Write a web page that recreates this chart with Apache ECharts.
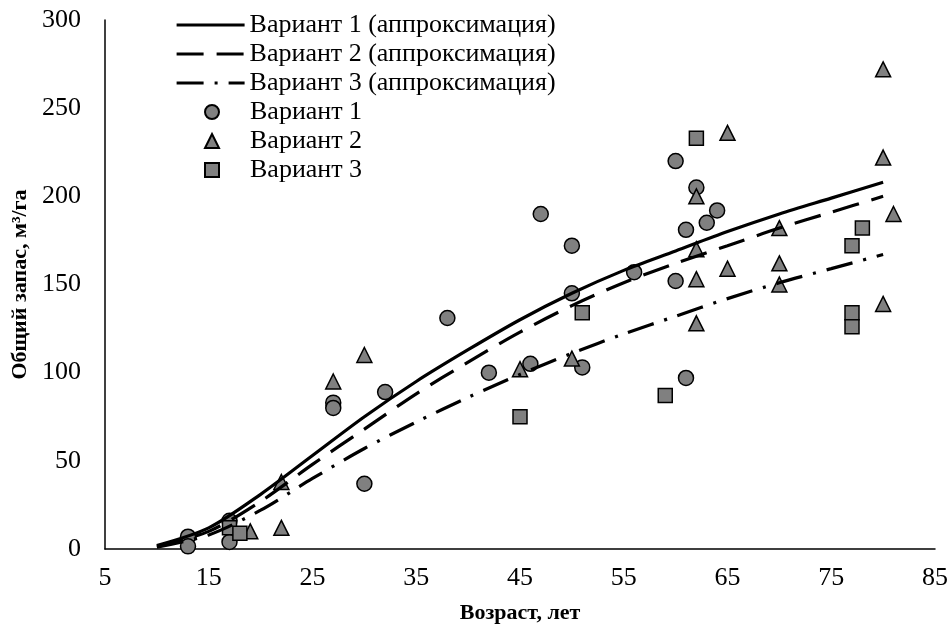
<!DOCTYPE html>
<html>
<head>
    <meta charset="utf-8">
    <script src="https://cdn.jsdelivr.net/npm/echarts@6/dist/echarts.min.js"></script>
    <style>
        html, body { margin: 0; padding: 0; background: #fff; }
        #main { width: 952px; height: 632px; }
    </style>
</head>
<body>
<div id="main"></div>
<script>
    // approximation curves
    var fitAges = [10, 15, 20, 25, 30, 35, 40, 45, 50, 55, 60, 65, 70, 75, 80];
    var fit1 = [2, 12, 31, 53, 75, 95, 113, 130, 145, 158, 169, 180, 190, 199, 208];
    var fit2 = [1.5, 10, 27, 48, 68, 88, 106, 123, 138, 151, 162, 172, 182, 191, 200];
    var fit3 = [1, 8, 22, 40, 57, 72, 86, 99, 111, 122, 132, 142, 151, 159, 167];

    // measured plots
    var v1Age = [13, 13, 17, 17, 27, 27, 30, 32, 38, 42, 46, 47, 50, 50, 51, 56, 60, 60, 61, 61, 62, 63, 64];
    var v1Vol = [7, 1.5, 16, 4, 83, 80, 37, 89, 131, 100, 105, 190, 172, 145, 103, 157, 220, 152, 181, 97, 205, 185, 192];
    var v2Age = [19, 22, 22, 27, 30, 45, 50, 62, 62, 62, 62, 65, 65, 70, 70, 70, 80, 80, 80, 81];
    var v2Vol = [10, 12, 38, 95, 110, 102, 108, 200, 170, 153, 128, 236, 159, 182, 162, 150, 272, 222, 139, 190];
    var v3Age = [17, 18, 45, 51, 59, 62, 77, 77, 77, 78];
    var v3Vol = [12, 9, 75, 134, 87, 233, 172, 134, 126, 182];

    var names = [
        'Вариант 1 (аппроксимация)',
        'Вариант 2 (аппроксимация)',
        'Вариант 3 (аппроксимация)',
        'Вариант 1',
        'Вариант 2',
        'Вариант 3'
    ];

    function pairs(xs, ys) {
        var out = [];
        for (var i = 0; i < xs.length; i++) {
            out.push([xs[i], ys[i]]);
        }
        return out;
    }

    var font = 'Liberation Serif, Times New Roman, serif';

    function fitLine(name, ys, dash) {
        return {
            name: name,
            type: 'line',
            smooth: 0.3,
            symbol: 'none',
            data: pairs(fitAges, ys),
            lineStyle: { color: '#000', width: 3.2, type: dash, cap: 'butt' },
            // transparent so the legend shows just the line
            itemStyle: { color: 'rgba(0,0,0,0)', borderWidth: 0 },
            z: 3
        };
    }

    function dots(name, xs, ys, symbol, size) {
        return {
            name: name,
            type: 'scatter',
            symbol: symbol,
            symbolSize: size,
            data: pairs(xs, ys),
            itemStyle: { color: '#808080', borderColor: '#000', borderWidth: 1.5, opacity: 1 },
            z: 2
        };
    }

    var chart = echarts.init(document.getElementById('main'));

    var legendText = { fontFamily: font, fontSize: 26, color: '#000' };

    chart.setOption({
        animation: false,
        backgroundColor: '#fff',
        textStyle: { fontFamily: font, color: '#000' },
        grid: { left: 105, right: 17, top: 20, bottom: 83, containLabel: false },
        legend: [{
            orient: 'vertical',
            left: 170,
            top: 7,
            itemWidth: 68,
            itemHeight: 14,
            itemGap: 3,
            data: names.slice(0, 3),
            lineStyle: { width: 3.2 },
            textStyle: legendText
        }, {
            // markers: small icons, text pushed to line up with the first block
            orient: 'vertical',
            left: 199,
            top: 94,
            itemWidth: 14,
            itemHeight: 14,
            itemGap: 3,
            data: names.slice(3),
            formatter: '{gap|}{name}',
            textStyle: {
                fontFamily: font, fontSize: 26, color: '#000',
                rich: { gap: { width: 26 } }
            }
        }],
        xAxis: {
            type: 'value',
            min: 5,
            max: 85,
            interval: 10,
            name: 'Возраст, лет',
            nameLocation: 'middle',
            nameGap: 53,
            nameTextStyle: { fontFamily: font, fontSize: 22, fontWeight: 'bold', color: '#000' },
            axisLine: { onZero: false, lineStyle: { color: '#000', width: 1.5 } },
            axisTick: { show: false },
            splitLine: { show: false },
            axisLabel: { fontFamily: font, fontSize: 26, color: '#000', margin: 16 }
        },
        yAxis: {
            type: 'value',
            min: 0,
            max: 300,
            interval: 50,
            name: 'Общий запас, м³/га',
            nameLocation: 'middle',
            nameGap: 74,
            nameTextStyle: { fontFamily: font, fontSize: 22, fontWeight: 'bold', color: '#000' },
            axisLine: { show: true, lineStyle: { color: '#000', width: 1.5 } },
            axisTick: { show: false },
            splitLine: { show: false },
            axisLabel: { fontFamily: font, fontSize: 26, color: '#000', margin: 24 }
        },
        series: [
            fitLine(names[0], fit1, 'solid'),
            fitLine(names[1], fit2, [27, 13]),
            fitLine(names[2], fit3, [27, 11, 3, 11]),
            dots(names[3], v1Age, v1Vol, 'circle', 15),
            dots(names[4], v2Age, v2Vol, 'triangle', 15),
            dots(names[5], v3Age, v3Vol, 'rect', 14)
        ]
    });
</script>
</body>
</html>
